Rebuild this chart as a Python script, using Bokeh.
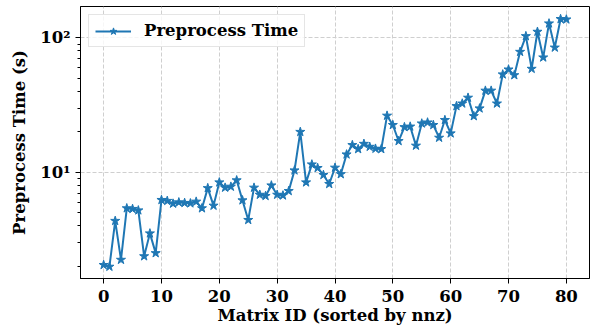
from bokeh.plotting import figure
from bokeh.models import Range1d, FixedTicker, Legend, LegendItem
from bokeh.embed import file_html
from bokeh.resources import INLINE

matrix_id = list(range(81))
preprocess_time = [
    2.05, 1.99, 4.36, 2.24, 5.41, 5.35, 5.22, 2.38, 3.52, 2.51,
    6.24, 6.14, 5.86, 5.99, 5.93, 5.89, 6.06, 5.41, 7.64, 5.66,
    8.43, 7.70, 7.83, 8.73, 6.20, 4.43, 7.70, 6.82, 6.68, 8.00,
    6.82, 6.74, 7.27, 10.35, 20.0, 8.43, 11.46, 10.78, 9.57, 8.20,
    10.84, 9.70, 13.6, 15.96, 14.9, 16.3, 15.5, 15.0, 14.9, 26.4,
    22.5, 17.1, 21.7, 21.9, 15.8, 23.1, 23.5, 22.5, 18.1, 24.5,
    19.5, 31.1, 32.5, 35.9, 26.2, 29.9, 40.5, 40.5, 32.5, 53.5,
    58.2, 52.8, 78.7, 103.0, 58.9, 111.0, 71.5, 128.0, 84.7, 138.0,
    137.0,
]
x_ticks = [0, 10, 20, 30, 40, 50, 60, 70, 80]
y_ticks = [10, 100]
y_minor = [2, 3, 4, 5, 6, 7, 8, 9, 20, 30, 40, 50, 60, 70, 80, 90]
y_tick_labels = {10: "10¹", 100: "10²"}

FONT = "DejaVu Serif"
FS = "16.5px"
BLUE = "#1f77b4"

p = figure(width=593, height=327, output_backend="svg", toolbar_location=None,
           y_axis_type="log", x_range=Range1d(-4, 84), y_range=Range1d(1.626, 171),
           min_border_left=80, min_border_right=4, min_border_top=6, min_border_bottom=46,
           background_fill_color="white", border_fill_color="white")

line = p.line(matrix_id, preprocess_time, line_color=BLUE, line_width=2)
pts = p.scatter(matrix_id, preprocess_time, marker="star", size=9.5,
                fill_color=BLUE, line_color=BLUE)

p.xaxis.ticker = FixedTicker(ticks=x_ticks, minor_ticks=[])
p.yaxis.ticker = FixedTicker(ticks=y_ticks, minor_ticks=y_minor)
p.yaxis.major_label_overrides = y_tick_labels

for ax in (p.xaxis, p.yaxis):
    ax.axis_line_color = "black"
    ax.axis_line_width = 1
    ax.major_tick_line_color = "black"
    ax.minor_tick_line_color = "black"
    ax.major_tick_out = 5
    ax.major_tick_in = 0
    ax.minor_tick_out = 3
    ax.minor_tick_in = 0
    ax.major_label_text_font = FONT
    ax.major_label_text_font_style = "bold"
    ax.major_label_text_font_size = FS
    ax.major_label_text_color = "black"
    ax.axis_label_text_font = FONT
    ax.axis_label_text_font_style = "bold"
    ax.axis_label_text_font_size = FS
    ax.axis_label_text_color = "black"

p.xaxis.axis_label = "Matrix ID (sorted by nnz)"
p.yaxis.axis_label = "Preprocess Time (s)"
p.xaxis.major_label_standoff = 6
p.xaxis.axis_label_standoff = 1
p.yaxis.major_label_standoff = 5
p.yaxis.axis_label_standoff = 8

for g in (p.xgrid, p.ygrid):
    g.grid_line_color = "#cfcfcf"
    g.grid_line_dash = "4 2"
    g.grid_line_width = 1
p.ygrid.minor_grid_line_color = None

p.outline_line_color = "black"
p.outline_line_width = 1

legend = Legend(items=[LegendItem(label="Preprocess Time", renderers=[line, pts])],
                location="top_left", margin=8, padding=6, spacing=0,
                glyph_width=36, glyph_height=18, label_standoff=13,
                label_text_font=FONT, label_text_font_style="bold",
                label_text_font_size=FS, label_text_color="black",
                border_line_color="#cccccc", border_line_width=1,
                background_fill_color="white", background_fill_alpha=0.8)
p.add_layout(legend)

open("out.html", "w").write(file_html(p, INLINE))
